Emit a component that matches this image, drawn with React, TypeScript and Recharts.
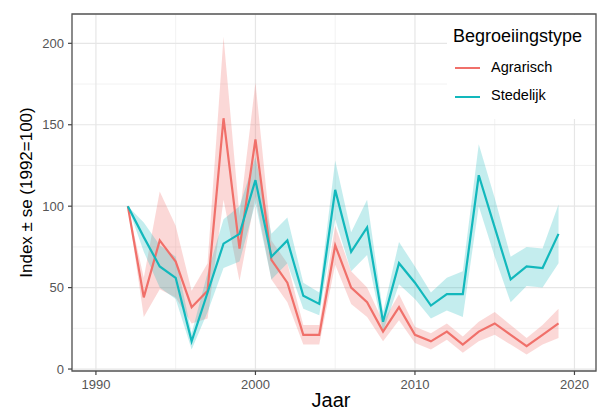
import React from 'react';
import {
  ComposedChart,
  Line,
  Area,
  XAxis,
  YAxis,
  CartesianGrid,
  ReferenceArea,
  Legend,
} from 'recharts';

const years = [
  1992, 1993, 1994, 1995, 1996, 1997, 1998, 1999, 2000, 2001, 2002, 2003, 2004, 2005,
  2006, 2007, 2008, 2009, 2010, 2011, 2012, 2013, 2014, 2015, 2016, 2017, 2018, 2019,
];

const agrarisch = [100, 44, 79, 66, 38, 48, 154, 74, 141, 67, 53, 21, 21, 76, 50, 41, 23, 38, 21, 17, 23, 15, 23, 28, 21, 14, 21, 28];
const agrarischLo = [100, 32, 49, 44, 28, 31, 104, 54, 106, 55, 41, 15, 15, 64, 40, 32, 17, 30, 16, 12, 18, 10, 17, 21, 15, 9, 15, 19];
const agrarischHi = [100, 56, 109, 88, 48, 65, 204, 94, 176, 79, 65, 27, 27, 88, 60, 50, 29, 46, 26, 22, 28, 20, 29, 35, 27, 19, 27, 37];

const stedelijk = [100, 81, 63, 56, 17, 47, 77, 83, 116, 69, 79, 45, 40, 110, 72, 87, 29, 65, 53, 39, 46, 46, 119, 87, 55, 63, 62, 83];
const stedelijkLo = [100, 72, 50, 43, 12, 35, 62, 66, 102, 55, 65, 37, 33, 92, 60, 70, 23, 52, 43, 31, 36, 32, 100, 69, 41, 51, 50, 65];
const stedelijkHi = [100, 90, 76, 69, 22, 59, 92, 100, 130, 83, 93, 53, 47, 128, 84, 104, 35, 78, 63, 47, 56, 60, 138, 105, 69, 75, 74, 101];

const xTicks = [1990, 2000, 2010, 2020];
const xMinor = [1995, 2005, 2015];
const yTicks = [0, 50, 100, 150, 200];
const yMinor = [25, 75, 125, 175];

const seriesNames = ['Agrarisch', 'Stedelijk'];
const legendTitle = 'Begroeiingstype';
const xTitle = 'Jaar';
const yTitle = 'Index ± se (1992=100)';

const RED = '#F0706A';
const TEAL = '#12B8BC';
const FONT = '"Liberation Sans", Arial, Helvetica, sans-serif';

const X_DOMAIN: [number, number] = [1988.5, 2021.35];
const Y_DOMAIN: [number, number] = [-1.2, 218];

const data = years.map((year, i) => ({
  year,
  agr: agrarisch[i],
  agrBand: [agrarischLo[i], agrarischHi[i]],
  ste: stedelijk[i],
  steBand: [stedelijkLo[i], stedelijkHi[i]],
}));

const LegendBox = () => (
  <div
    style={{
      position: 'relative',
      width: 148,
      height: 104,
      background: '#fff',
      fontFamily: FONT,
      color: '#000',
    }}
  >
    <div style={{ position: 'absolute', left: 6, top: 11, fontSize: 18, lineHeight: '21px', whiteSpace: 'nowrap' }}>
      {legendTitle}
    </div>
    {seriesNames.map((name, i) => (
      <React.Fragment key={name}>
        <div
          style={{
            position: 'absolute',
            left: 8,
            top: 52 + i * 28.5,
            width: 25,
            height: 2,
            background: i === 0 ? RED : TEAL,
          }}
        />
        <div
          style={{
            position: 'absolute',
            left: 44,
            top: 43.5 + i * 28.5,
            fontSize: 14.5,
            lineHeight: '17px',
            whiteSpace: 'nowrap',
          }}
        >
          {name}
        </div>
      </React.Fragment>
    ))}
  </div>
);

const YTitle = (props: any) => {
  const vb = props.viewBox || {};
  const cy = vb.y + vb.height / 2;
  return (
    <text
      x={26}
      y={cy}
      transform={`rotate(-90, 26, ${cy})`}
      textAnchor="middle"
      dominantBaseline="central"
      fontSize={17}
      fontFamily={FONT}
      fill="#000"
    >
      {yTitle}
    </text>
  );
};

const XTitle = (props: any) => {
  const vb = props.viewBox || {};
  const cx = vb.x + vb.width / 2 - 3;
  return (
    <text x={cx} y={407} textAnchor="middle" fontSize={20} fontFamily={FONT} fill="#000">
      {xTitle}
    </text>
  );
};

export default function App() {
  return (
    <div style={{ position: 'absolute', left: 0, top: 0, width: 606, height: 412, background: '#fff' }}>
      <ComposedChart
        width={606}
        height={412}
        data={data}
        margin={{ top: 14, right: 10, bottom: 0, left: 0 }}
      >
        <CartesianGrid
          stroke="#EFEFEF"
          strokeWidth={0.8}
          horizontalValues={yMinor}
          verticalValues={xMinor}
          syncWithTicks
        />
        <CartesianGrid stroke="#E6E6E6" strokeWidth={1.2} />
        <XAxis
          dataKey="year"
          type="number"
          domain={X_DOMAIN}
          ticks={xTicks}
          allowDataOverflow
          height={41}
          tickSize={4}
          tickMargin={5}
          axisLine={false}
          tickLine={{ stroke: '#444', strokeWidth: 1.2 }}
          tick={{ fill: '#555', fontSize: 13, fontFamily: FONT }}
          interval={0}
          label={<XTitle />}
        />
        <YAxis
          type="number"
          domain={Y_DOMAIN}
          ticks={yTicks}
          allowDataOverflow
          width={72}
          tickSize={4}
          tickMargin={4}
          axisLine={false}
          tickLine={{ stroke: '#444', strokeWidth: 1.2 }}
          tick={{ fill: '#555', fontSize: 13, fontFamily: FONT }}
          interval={0}
          label={<YTitle />}
        />
        <Area
          dataKey="agrBand"
          type="linear"
          stroke="none"
          fill={RED}
          fillOpacity={0.27}
          isAnimationActive={false}
          activeDot={false}
          legendType="none"
        />
        <Area
          dataKey="steBand"
          type="linear"
          stroke="none"
          fill={TEAL}
          fillOpacity={0.25}
          isAnimationActive={false}
          activeDot={false}
          legendType="none"
        />
        <Line
          dataKey="agr"
          name={seriesNames[0]}
          type="linear"
          stroke={RED}
          strokeWidth={2.2}
          dot={false}
          activeDot={false}
          isAnimationActive={false}
        />
        <Line
          dataKey="ste"
          name={seriesNames[1]}
          type="linear"
          stroke={TEAL}
          strokeWidth={2.2}
          dot={false}
          activeDot={false}
          isAnimationActive={false}
        />
        <ReferenceArea
          x1={X_DOMAIN[0]}
          x2={X_DOMAIN[1]}
          y1={Y_DOMAIN[0]}
          y2={Y_DOMAIN[1]}
          fill="none"
          stroke="#555"
          strokeWidth={1.3}
          ifOverflow="visible"
        />
        <Legend
          layout="vertical"
          align="center"
          verticalAlign="middle"
          content={<LegendBox />}
          wrapperStyle={{ left: 447, top: 15, width: 148, height: 104 }}
        />
      </ComposedChart>
    </div>
  );
}
